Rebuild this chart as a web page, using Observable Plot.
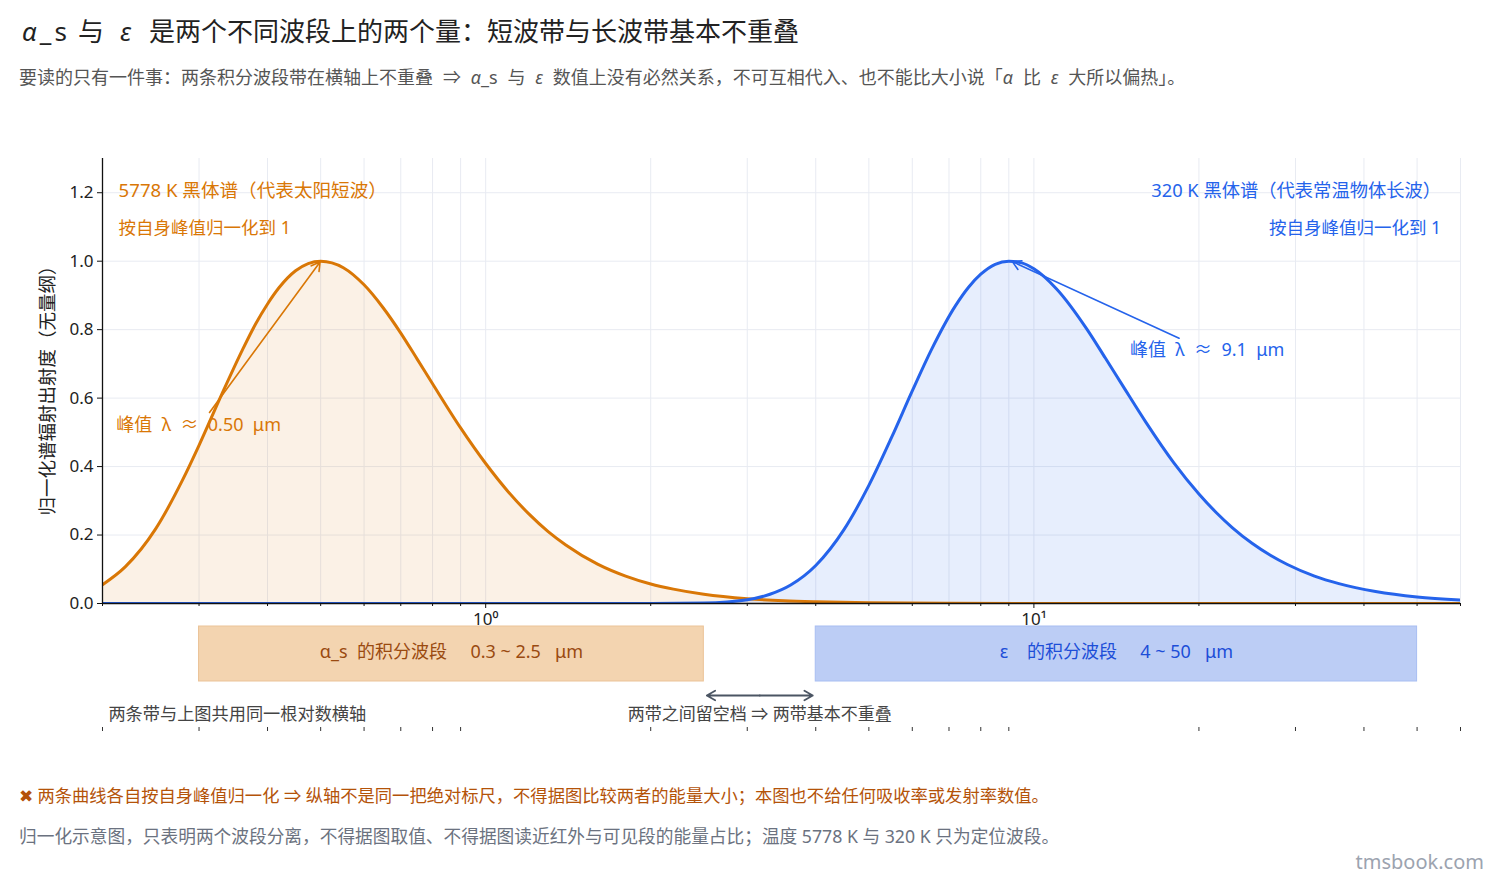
<!DOCTYPE html>
<html><head><meta charset="utf-8">
<script src="https://cdn.jsdelivr.net/npm/d3@7"></script>
<script src="https://cdn.jsdelivr.net/npm/@observablehq/plot@0.6"></script>
<style>
body{margin:0;background:#fff;font-family:"Noto Sans","Noto Sans CJK SC",sans-serif;}
#wrap{position:relative;width:1500px;height:880px;overflow:hidden;background:#fff;}
.abs{position:absolute;white-space:pre;}
.g{margin:0 0.55em;}
#title{left:22px;top:14px;font-size:26px;color:#222;line-height:34px;}
#title .as{letter-spacing:0.12em;}
#subtitle{left:19px;top:66px;font-size:18px;color:#555;line-height:22px;}
#main{left:0;top:140px;}
#bands{left:0;top:606px;}
#note1{left:19px;top:785px;font-size:17.3px;color:#b45309;line-height:22px;}
#note2{left:19px;top:825px;font-size:17.7px;color:#6b7280;line-height:22px;}
#mark{right:16px;top:849px;font-size:20px;color:#9ca3af;line-height:26px;}
svg text{white-space:pre;}
</style></head>
<body>
<div id="wrap">
  <div class="abs" id="title"><span class="as"><i>α</i>_s</span><span style="margin-left:8px">与</span><span style="margin-left:16px"><i>ε</i></span><span style="margin-left:18px">是两个不同波段上的两个量：短波带与长波带基本不重叠</span></div>
  <div class="abs" id="subtitle">要读的只有一件事：两条积分波段带在横轴上不重叠<span class="g">⇒</span><span><i>α</i>_s</span><span class="g">与</span><i>ε</i><span style="margin-left:0.55em"></span>数值上没有必然关系，不可互相代入、也不能比大小说「<i>α</i><span class="g">比</span><i>ε</i><span style="margin-left:0.55em"></span>大所以偏热」。</div>
  <div class="abs" id="main"></div>
  <div class="abs" id="bands"></div>
  <div class="abs" id="note1">✖ 两条曲线各自按自身峰值归一化 ⇒ 纵轴不是同一把绝对标尺，不得据图比较两者的能量大小；本图也不给任何吸收率或发射率数值。</div>
  <div class="abs" id="note2">归一化示意图，只表明两个波段分离，不得据图取值、不得据图读近红外与可见段的能量占比；温度 5778 K 与 320 K 只为定位波段。</div>
  <div class="abs" id="mark">tmsbook.com</div>
</div>
<script>
// ---- data ----
const orangeLambda = [0.2, 0.22, 0.25, 0.28, 0.3, 0.33, 0.36, 0.38, 0.4, 0.42, 0.45, 0.5, 0.55, 0.6, 0.65, 0.7, 0.75, 0.8, 0.9, 1.0, 1.1, 1.2, 1.3, 1.4, 1.6, 1.8, 2.0, 2.2, 2.5, 3, 3.5, 4, 5, 7, 10, 20, 60];
const orangeValue  = [0.055, 0.107, 0.218, 0.361, 0.462, 0.611, 0.741, 0.815, 0.875, 0.923, 0.972, 1.0, 0.981, 0.931, 0.864, 0.790, 0.714, 0.642, 0.513, 0.409, 0.326, 0.261, 0.210, 0.171, 0.115, 0.080, 0.057, 0.042, 0.027, 0.014, 0.008, 0.005, 0.002, 0.0006, 0.0002, 0, 0];
const blueLambda = [0.2, 1, 2, 2.5, 3, 3.3, 3.6, 4, 4.5, 5, 5.5, 6, 6.5, 7.2, 7.6, 8, 8.5, 9, 9.5, 10, 11, 12.5, 13.5, 14.5, 16, 18, 20, 21.5, 23, 25, 27, 29, 32.5, 36, 42, 50, 60];
const blueValue  = [0, 0, 0.00005, 0.0014, 0.011, 0.027, 0.054, 0.111, 0.215, 0.345, 0.485, 0.621, 0.741, 0.871, 0.924, 0.962, 0.991, 1.0, 0.995, 0.978, 0.919, 0.801, 0.717, 0.638, 0.530, 0.411, 0.320, 0.266, 0.222, 0.176, 0.141, 0.114, 0.080, 0.058, 0.035, 0.019, 0.010];

const yTicks = [0, 0.2, 0.4, 0.6, 0.8, 1.0, 1.2];
const majorTicks = [1, 10];
const majorLabels = ["10⁰", "10¹"];
const minorTicks = [0.2, 0.3, 0.4, 0.5, 0.6, 0.7, 0.8, 0.9, 2, 3, 4, 5, 6, 7, 8, 9, 20, 30, 40, 50, 60];

const curveTitles = ["5778 K 黑体谱（代表太阳短波）", "320 K 黑体谱（代表常温物体长波）"];
const curveSubtitles = ["按自身峰值归一化到 1", "按自身峰值归一化到 1"];
const curveLabelLambda = [0.214, 55.3];
const curveTitleY = [1.205, 1.205];
const curveSubY = [1.096, 1.096];

const peakLabels = ["峰值  λ  ≈  0.50  μm", "峰值  λ  ≈  9.1  μm"];
const peakLambda = [0.5, 9.1];
const peakValue = [1.0, 1.0];
const peakTailLambda = [0.3135, 18.4];
const peakTailValue = [0.558, 0.775];
const peakTextLambda = [0.212, 14.97];
const peakTextValue = [0.52, 0.74];

const bandNames = ["α_s  的积分波段     0.3 ~ 2.5   μm", "ε    的积分波段     4 ~ 50   μm"];
const bandStart = [0.3, 4];
const bandEnd = [2.5, 50];

const noteTexts = ["两条带与上图共用同一根对数横轴", "两带之间留空档 ⇒ 两带基本不重叠"];
const noteLambda = [0.205, 3.162];

const yLabel = "归一化谱辐射出射度（无量纲）";

// ---- styles ----
const ORANGE = "#d97706", BLUE = "#2563eb";
const FONT = "'Noto Sans', 'Noto Sans CJK SC', sans-serif";
const GRID = "#e8ebf2";

const orangeData = orangeLambda.map((x, i) => ({x, y: orangeValue[i]}));
const blueData = blueLambda.map((x, i) => ({x, y: blueValue[i]}));
const series = [0, 1].map(i => ({
  color: i === 0 ? ORANGE : BLUE,
  title: curveTitles[i], sub: curveSubtitles[i], lx: curveLabelLambda[i], ty: curveTitleY[i], sy: curveSubY[i],
  peak: peakLabels[i], px: peakLambda[i], py: peakValue[i], tx: peakTailLambda[i], ty2: peakTailValue[i],
  lxp: peakTextLambda[i], lyp: peakTextValue[i]
}));
const left = [series[0]], right = [series[1]];

const main = Plot.plot({
  width: 1500, height: 500,
  marginTop: 18, marginBottom: 37, marginLeft: 102, marginRight: 40,
  style: {fontFamily: FONT, fontSize: "17px", color: "#222", background: "transparent", overflow: "visible"},
  x: {type: "log", domain: [0.2, 60]},
  y: {domain: [0, 1.3]},
  marks: [
    Plot.gridX([...minorTicks, ...majorTicks], {stroke: GRID, strokeOpacity: 1}),
    Plot.gridY(yTicks.slice(1), {stroke: GRID, strokeOpacity: 1}),
    Plot.areaY(orangeData, {x: "x", y: "y", fill: ORANGE, fillOpacity: 0.1, curve: "monotone-x", clip: true}),
    Plot.areaY(blueData, {x: "x", y: "y", fill: BLUE, fillOpacity: 0.11, curve: "monotone-x", clip: true}),
    Plot.lineY(orangeData, {x: "x", y: "y", stroke: ORANGE, strokeWidth: 3, curve: "monotone-x", clip: true}),
    Plot.lineY(blueData, {x: "x", y: "y", stroke: BLUE, strokeWidth: 3, curve: "monotone-x", clip: true}),
    Plot.ruleX([0.2], {stroke: "#111", strokeWidth: 1.3}),
    Plot.ruleY([0], {stroke: "#111", strokeWidth: 1.3}),
    Plot.axisY(yTicks, {tickSize: 5, tickPadding: 4, tickFormat: d3.format(".1f"), label: null, fontSize: 17, stroke: "#111"}),
    Plot.axisX(majorTicks, {tickSize: 5, tickPadding: 4, tickFormat: d => majorLabels[majorTicks.indexOf(d)], label: null, fontSize: 17, stroke: "#111"}),
    Plot.axisX(minorTicks, {tickSize: 3, tickFormat: () => "", label: null, stroke: "#111"}),
    Plot.text([yLabel], {text: d => d, frameAnchor: "left", textAnchor: "middle", rotate: -90, dx: -54, dy: 5, fontSize: 18.5, fill: "#222"}),
    Plot.arrow(series, {x1: "tx", y1: "ty2", x2: "px", y2: "py", stroke: "color", strokeWidth: 1.6, headLength: 9, insetEnd: 1}),
    Plot.text(left, {x: "lx", y: "ty", text: "title", fill: "color", textAnchor: "start", fontSize: 18.6}),
    Plot.text(left, {x: "lx", y: "sy", text: "sub", fill: "color", textAnchor: "start", fontSize: 17.5}),
    Plot.text(right, {x: "lx", y: "ty", text: "title", fill: "color", textAnchor: "end", fontSize: 18.3}),
    Plot.text(right, {x: "lx", y: "sy", text: "sub", fill: "color", textAnchor: "end", fontSize: 17.5}),
    Plot.text(series, {x: "lxp", y: "lyp", text: "peak", fill: "color", textAnchor: "start", fontSize: 18}),
  ]
});
document.getElementById("main").appendChild(main);

const bandData = [0, 1].map(i => ({
  name: bandNames[i], start: bandStart[i], end: bandEnd[i],
  fill: i === 0 ? "#f3d4b0" : "#bccdf5", stroke: i === 0 ? "#ebc398" : "#a8bef2", ink: i === 0 ? "#9a4a10" : "#1d4ed8"
}));
const gapMid = Math.sqrt(bandEnd[0] * bandStart[1]);
const gapArrows = [{from: gapMid, to: bandEnd[0]}, {from: gapMid, to: bandStart[1]}];

const bands = Plot.plot({
  width: 1500, height: 132,
  marginTop: 0, marginBottom: 11, marginLeft: 102, marginRight: 40,
  style: {fontFamily: FONT, fontSize: "17px", color: "#333", background: "transparent", overflow: "visible"},
  x: {type: "log", domain: [0.2, 60]},
  y: {domain: [0, 121], axis: null},
  marks: [
    Plot.rect(bandData, {x1: "start", x2: "end", y1: 46, y2: 101, fill: "fill", stroke: "stroke", strokeWidth: 1}),
    Plot.text(bandData, {x: d => Math.sqrt(d.start * d.end), y: 75, text: "name", fill: "ink", fontSize: 18}),
    Plot.arrow(gapArrows, {x1: "from", x2: "to", y1: 32, y2: 32, stroke: "#4b5563", strokeWidth: 1.8, headLength: 8, insetEnd: 3}),
    Plot.text([noteTexts[0]], {x: noteLambda[0], y: 13, text: d => d, textAnchor: "start", fill: "#444", fontSize: 17.2}),
    Plot.text([noteTexts[1]], {x: noteLambda[1], y: 13, text: d => d, textAnchor: "middle", fill: "#444", fontSize: 17}),
    Plot.axisX(minorTicks, {tickSize: 4, tickFormat: () => "", label: null, stroke: "#333"})
  ]
});
document.getElementById("bands").appendChild(bands);
</script>
</body></html>
